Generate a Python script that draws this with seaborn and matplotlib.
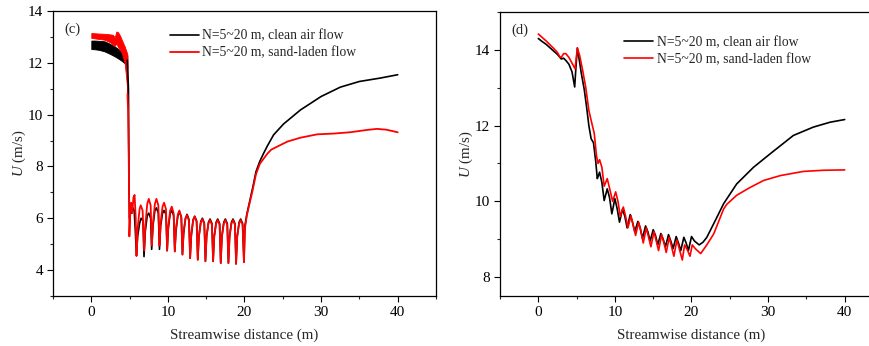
import numpy as np
import pandas as pd
import matplotlib
matplotlib.use("Agg")
import matplotlib.pyplot as plt
from matplotlib.ticker import MultipleLocator
import seaborn as sns

# ---------------- data: panel (c) ----------------
# high-frequency band near the leading edge (envelopes)
c_band_x = [0.0, 0.5, 1.0, 1.74, 2.4, 3.05, 3.5, 3.9, 4.3, 4.6, 4.7]
c_clean_band_hi = [12.86, 12.86, 12.85, 12.83, 12.74, 12.63, 12.54, 12.44, 12.35, 12.3, 12.25]
c_clean_band_lo = [12.53, 12.52, 12.5, 12.44, 12.35, 12.25, 12.17, 12.09, 12.0, 11.9, 11.8]
c_sand_band_x = [0.0, 0.5, 1.0, 1.74, 2.4, 2.83, 3.05, 3.27, 3.5, 3.75, 3.98, 4.36, 4.66, 4.72]
c_sand_band_hi = [13.15, 13.14, 13.13, 13.12, 13.1, 13.08, 12.98, 13.21, 13.18, 13.05, 12.89, 12.63, 12.38, 12.3]
c_sand_band_lo = [12.96, 12.94, 12.92, 12.89, 12.8, 12.7, 12.65, 12.75, 12.6, 12.5, 12.38, 11.99, 11.09, 10.8]

c_clean_x = [4.70, 4.85, 4.93, 5.00, 5.10, 5.25, 5.45, 5.60, 5.75, 5.90,
             6.05, 6.30, 6.50, 6.75, 6.88,
             7.05, 7.30, 7.50, 7.75, 7.88,
             8.05, 8.30, 8.50, 8.75, 8.90,
             9.05, 9.30, 9.50, 9.75, 9.90,
             10.05, 10.30, 10.50, 10.75, 10.90,
             11.05, 11.30, 11.50, 11.75, 11.90,
             12.05, 12.30, 12.50, 12.75, 12.90,
             13.05, 13.30, 13.50, 13.75, 13.90,
             14.05, 14.30, 14.50, 14.75, 14.90,
             15.05, 15.30, 15.50, 15.75, 15.90,
             16.05, 16.30, 16.50, 16.75, 16.90,
             17.05, 17.30, 17.50, 17.75, 17.90,
             18.05, 18.30, 18.50, 18.75, 18.90,
             19.05, 19.30, 19.50, 19.75, 19.93,
             20.05, 20.30, 20.60, 21.10, 21.50, 22.00, 22.50, 23.00, 23.80,
             25.10, 27.30, 30.00, 32.50, 35.00, 37.70, 40.00]
c_clean_u = [12.1, 11.0, 7.0, 6.0, 6.5, 6.2, 6.4, 6.3, 5.5, 4.55,
             5.3, 5.8, 6.0, 5.9, 4.52,
             5.5, 6.1, 6.2, 6.0, 4.8,
             5.7, 6.3, 6.4, 6.2, 4.8,
             5.7, 6.2, 6.3, 6.15, 4.75,
             5.6, 6.2, 6.3, 6.1, 4.72,
             5.5, 6.1, 6.25, 6.05, 4.6,
             5.4, 6.0, 6.15, 5.95, 4.46,
             5.3, 5.95, 6.08, 5.9, 4.40,
             5.3, 5.88, 6.0, 5.82, 4.34,
             5.3, 5.85, 5.97, 5.8, 4.34,
             5.3, 5.85, 5.97, 5.8, 4.27,
             5.3, 5.85, 5.97, 5.8, 4.27,
             5.3, 5.85, 5.97, 5.8, 4.24,
             5.3, 5.85, 5.97, 5.8, 4.32,
             5.7, 6.15, 6.55, 7.22, 7.8, 8.2, 8.51, 8.8, 9.22,
             9.64, 10.18, 10.70, 11.06, 11.28, 11.41, 11.54]

c_sand_x = [4.72, 4.80, 4.90, 4.97, 5.10, 5.20, 5.35, 5.50, 5.65, 5.80, 5.90,
            6.05, 6.30, 6.45, 6.70, 6.90,
            7.05, 7.30, 7.50, 7.75, 7.90,
            8.05, 8.30, 8.50, 8.75, 8.90,
            9.05, 9.30, 9.50, 9.75, 9.90,
            10.05, 10.30, 10.50, 10.75, 10.90,
            11.05, 11.30, 11.50, 11.75, 11.90,
            12.05, 12.30, 12.50, 12.75, 12.90,
            13.05, 13.30, 13.50, 13.75, 13.90,
            14.05, 14.30, 14.50, 14.75, 14.90,
            15.05, 15.30, 15.50, 15.75, 15.90,
            16.05, 16.30, 16.50, 16.75, 16.90,
            17.05, 17.30, 17.50, 17.75, 17.90,
            18.05, 18.30, 18.50, 18.75, 18.90,
            19.05, 19.30, 19.50, 19.75, 19.93,
            20.05, 20.30, 20.60, 21.00, 21.50, 22.00, 22.50, 23.00, 23.50,
            24.30, 25.60, 27.30, 29.50, 31.70, 33.80, 36.00, 37.30, 38.50, 40.00]
c_sand_u = [10.8, 10.2, 8.0, 5.3, 6.3, 6.6, 6.2, 6.8, 6.9, 6.0, 4.55,
            5.6, 6.35, 6.5, 6.3, 4.75,
            5.7, 6.55, 6.75, 6.5, 4.95,
            5.8, 6.55, 6.75, 6.5, 4.95,
            5.8, 6.45, 6.6, 6.35, 4.75,
            5.7, 6.3, 6.45, 6.2, 4.72,
            5.6, 6.15, 6.3, 6.05, 4.6,
            5.5, 6.0, 6.12, 5.9, 4.46,
            5.4, 5.93, 6.06, 5.85, 4.40,
            5.3, 5.85, 5.97, 5.78, 4.34,
            5.3, 5.8, 5.93, 5.75, 4.34,
            5.3, 5.8, 5.93, 5.75, 4.27,
            5.3, 5.8, 5.93, 5.75, 4.27,
            5.3, 5.8, 5.93, 5.75, 4.24,
            5.3, 5.8, 5.93, 5.75, 4.30,
            5.6, 6.1, 6.5, 7.0, 7.7, 8.1, 8.3, 8.5, 8.65,
            8.77, 8.96, 9.11, 9.24, 9.27, 9.32, 9.41, 9.45, 9.42, 9.32]

# ---------------- data: panel (d) ----------------
d_clean_x = [0.0, 0.5, 1.0, 1.5, 2.0, 2.5, 3.0, 3.3, 3.6, 4.0, 4.4, 4.75, 4.9, 5.1, 5.3,
             5.6, 6.0, 6.3, 6.6, 6.9, 7.2, 7.5, 7.7, 7.8,
             8.0, 8.3, 8.6, 9.0, 9.3, 9.6, 10.0, 10.3, 10.6, 11.0, 11.3, 11.6,
             12.0, 12.3, 12.6, 13.0, 13.3, 13.6, 14.0, 14.3, 14.6, 15.0, 15.3, 15.6,
             16.0, 16.3, 16.6, 17.0, 17.3, 17.6, 18.0, 18.3, 18.6, 19.0, 19.3, 19.6,
             20.0, 20.4, 21.0, 21.5, 22.0, 22.9, 24.2, 25.9, 28.1, 30.3, 33.3, 35.9, 38.1, 40.0]
d_clean_u = [14.30, 14.22, 14.15, 14.06, 13.97, 13.88, 13.76, 13.78, 13.72, 13.62, 13.42, 13.02, 13.5, 14.05, 13.8,
             13.4, 12.95, 12.5, 12.0, 11.65, 11.55, 11.05, 10.6, 10.65,
             10.77, 10.5, 10.02, 10.33, 10.1, 9.67, 10.07, 9.8, 9.45, 9.8, 9.6, 9.3,
             9.65, 9.45, 9.2, 9.47, 9.3, 9.02, 9.35, 9.2, 8.95, 9.25, 9.1, 8.85,
             9.15, 9.0, 8.8, 9.12, 8.95, 8.75, 9.07, 8.9, 8.7, 9.05, 8.9, 8.7,
             9.07, 8.95, 8.85, 8.92, 9.05, 9.41, 9.94, 10.46, 10.9, 11.26, 11.74, 11.96, 12.09, 12.16]

d_sand_x = [0.0, 0.5, 1.0, 1.5, 2.0, 2.5, 2.8, 3.0, 3.3, 3.6, 4.0, 4.4, 4.8, 5.1, 5.4,
            5.8, 6.2, 6.6, 7.0, 7.3, 7.6, 7.8,
            8.0, 8.3, 8.6, 9.0, 9.3, 9.7, 10.1, 10.4, 10.7, 11.1, 11.4, 11.7,
            12.1, 12.4, 12.7, 13.1, 13.4, 13.7, 14.1, 14.4, 14.7, 15.1, 15.4, 15.7,
            16.1, 16.4, 16.7, 17.1, 17.4, 17.7, 18.1, 18.4, 18.8, 19.1, 19.5, 19.8,
            20.1, 20.5, 21.2, 22.0, 22.9, 24.2, 24.6, 25.9, 27.5, 29.4, 31.6, 34.6, 37.2, 40.0]
d_sand_u = [14.42, 14.33, 14.24, 14.14, 14.04, 13.93, 13.82, 13.8, 13.9, 13.9, 13.8, 13.65, 13.5, 14.05, 13.85,
            13.45, 13.0, 12.4, 12.05, 11.8, 11.2, 11.0,
            11.1, 10.9, 10.4, 10.6, 10.35, 10.0, 10.25, 10.0, 9.6, 9.85, 9.6, 9.3,
            9.62, 9.35, 9.1, 9.45, 9.2, 8.9, 9.3, 9.05, 8.8, 9.2, 8.95, 8.7,
            9.12, 8.9, 8.65, 9.05, 8.8, 8.55, 8.98, 8.75, 8.45, 8.85, 8.7, 8.55,
            8.85, 8.75, 8.62, 8.85, 9.14, 9.8, 9.92, 10.16, 10.35, 10.55, 10.68, 10.79, 10.82, 10.83]

legend_labels = ["N=5~20 m, clean air flow", "N=5~20 m, sand-laden flow"]
panel_tags = ["(c)", "(d)"]
x_label = "Streamwise distance (m)"
y_label = r"$\mathit{U}$ (m/s)"

# ---------------- style ----------------
sns.set_theme(style="ticks")
plt.rcParams["font.family"] = ["Liberation Serif", "DejaVu Serif"]
plt.rcParams["mathtext.fontset"] = "custom"
plt.rcParams["mathtext.it"] = "Liberation Serif:italic"
plt.rcParams["mathtext.rm"] = "Liberation Serif"
plt.rcParams["axes.edgecolor"] = "black"
plt.rcParams["axes.linewidth"] = 0.9

fig = plt.figure(figsize=(8.7, 3.46), dpi=100)
axc = fig.add_axes([53 / 870, 50 / 346, 383 / 870, 285 / 346])
axd = fig.add_axes([500 / 870, 50 / 346, 383 / 870, 284 / 346])

BLACK = "#000000"
RED = "#ff0000"

# panel (c)
axc.fill_between(c_band_x, c_clean_band_lo, c_clean_band_hi, color=BLACK, lw=0.6)
sns.lineplot(x=c_clean_x, y=c_clean_u, ax=axc, color=BLACK, lw=1.2, sort=False,
             estimator=None, label=legend_labels[0])
axc.fill_between(c_sand_band_x, c_sand_band_lo, c_sand_band_hi, color=RED, lw=0.6)
sns.lineplot(x=c_sand_x, y=c_sand_u, ax=axc, color=RED, lw=1.3, sort=False,
             estimator=None, label=legend_labels[1])

# panel (d)
sns.lineplot(x=d_clean_x, y=d_clean_u, ax=axd, color=BLACK, lw=1.2, sort=False,
             estimator=None, label=legend_labels[0])
sns.lineplot(x=d_sand_x, y=d_sand_u, ax=axd, color=RED, lw=1.2, sort=False,
             estimator=None, label=legend_labels[1])

for ax, tag, ylim, ymaj in [(axc, panel_tags[0], (3, 14), 2), (axd, panel_tags[1], (7.5, 15), 2)]:
    ax.set_xlim(-5, 45)
    ax.set_ylim(*ylim)
    ax.xaxis.set_major_locator(MultipleLocator(10))
    ax.xaxis.set_minor_locator(MultipleLocator(5))
    ax.yaxis.set_major_locator(MultipleLocator(ymaj))
    ax.yaxis.set_minor_locator(MultipleLocator(1))
    ax.tick_params(which="major", direction="out", length=4, width=0.8, labelsize=11,
                   colors="black", pad=3)
    ax.tick_params(which="minor", direction="out", length=2.5, width=0.8)
    ax.tick_params(top=False, right=False, which="both")
    for s in ax.spines.values():
        s.set_visible(True)
        s.set_color("black")
    ax.set_xlabel(x_label, fontsize=10.8, labelpad=7)
    ax.set_ylabel(y_label, fontsize=10.8, labelpad=0)
    ax.text(0.03, 0.935, tag, transform=ax.transAxes, fontsize=10.5, ha="left", va="center")
    ax.grid(False)

axc.legend(loc="upper left", bbox_to_anchor=(0.29, 0.955), frameon=False, fontsize=9.8,
           handlelength=2.15, handletextpad=0.25, labelspacing=0.32, borderaxespad=0)
axd.legend(loc="upper left", bbox_to_anchor=(0.31, 0.935), frameon=False, fontsize=9.8,
           handlelength=2.15, handletextpad=0.25, labelspacing=0.32, borderaxespad=0)

fig.savefig("out.png", dpi=100)
